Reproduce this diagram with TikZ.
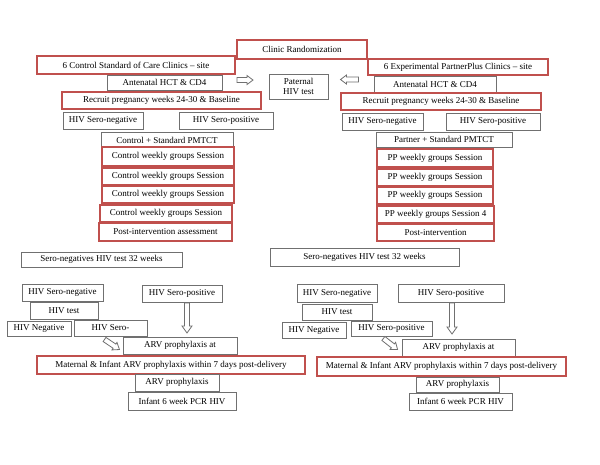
\documentclass[tikz,border=0pt]{standalone}
\usepackage{fontspec}
\setmainfont{Liberation Serif}
\definecolor{boxred}{RGB}{192,80,77}
\definecolor{boxgray}{RGB}{112,112,112}
\newcommand\mybox[7]{%
  \pgfmathsetmacro\bw{#5-#3}\pgfmathsetmacro\bh{#6-#4}%
  \pgfmathsetmacro\bcx{(#3+#5)/2}\pgfmathsetmacro\bcy{(#4+#6)/2}%
  \node[#1, minimum width=\bw pt, minimum height=\bh pt] (#2) at (\bcx,\bcy) {#7};}
% block arrow: cx, cy, angle, length, shaft width, head width, head length
\newcommand\blockarrow[7]{%
  \begin{scope}[shift={(#1,#2)}, rotate=#3]
    \pgfmathsetmacro\al{#4/2}\pgfmathsetmacro\as{#5/2}%
    \pgfmathsetmacro\ah{#6/2}\pgfmathsetmacro\ab{#4/2-#7}%
    \draw[barrow] (-\al,\as) -- (\ab,\as) -- (\ab,\ah) -- (\al,0) -- (\ab,-\ah) -- (\ab,-\as) -- (-\al,-\as) -- cycle;
  \end{scope}}
\begin{document}
\begin{tikzpicture}[x=1pt,y=-1pt,
  every node/.style={font=\fontsize{9}{10.5}\selectfont, inner sep=0pt, outer sep=0pt},
  rbox/.style={draw=boxred, line width=1.5pt, fill=white},
  gbox/.style={draw=boxgray, line width=0.9pt, fill=white},
  barrow/.style={draw=boxgray, line width=0.8pt, fill=white, line join=miter}]
\useasboundingbox[fill=white] (0,0) rectangle (600,464);
% top
\mybox{rbox}{rand}{237}{40}{367}{59}{Clinic Randomization}
\mybox{rbox}{ctrl}{37}{56}{235}{74}{6 Control Standard of Care Clinics – site}
\mybox{rbox}{exp}{368}{59}{548}{75}{6 Experimental PartnerPlus Clinics – site}
\mybox{gbox}{antL}{107}{75}{222}{90}{Antenatal HCT \& CD4}
\mybox{gbox}{antR}{374}{76}{496}{92}{Antenatal HCT \& CD4}
\mybox{gbox,align=center}{pat}{269}{74}{328}{99}{Paternal\\HIV test}
\blockarrow{245}{80}{0}{16}{5}{9}{6}
\blockarrow{349.5}{79.5}{180}{18}{5}{9}{6}
\mybox{rbox}{recL}{62}{92}{261}{109}{Recruit pregnancy weeks 24-30 \& Baseline}
\mybox{rbox}{recR}{341}{93}{541}{110}{Recruit pregnancy weeks 24-30 \& Baseline}
\mybox{gbox}{negL}{63}{112}{143}{129}{HIV Sero-negative}
\mybox{gbox}{posL}{179}{112}{273}{129}{HIV Sero-positive}
\mybox{gbox}{negR}{342}{113}{423}{130}{HIV Sero-negative}
\mybox{gbox}{posR}{446}{113}{540}{130}{HIV Sero-positive}
\mybox{gbox}{cstd}{101}{132}{233}{148}{Control + Standard PMTCT}
\mybox{gbox}{pstd}{376}{132}{512}{147}{Partner + Standard PMTCT}
% sessions
\mybox{rbox}{cw1}{102}{147}{234}{166}{Control weekly groups Session}
\mybox{rbox}{cw2}{102}{168}{234}{185}{Control weekly groups Session}
\mybox{rbox}{cw3}{102}{186}{234}{203}{Control weekly groups Session}
\mybox{rbox}{cw4}{100}{205}{232}{222}{Control weekly groups Session}
\mybox{rbox}{cpost}{99}{223}{232}{241}{Post-intervention assessment}
\mybox{rbox}{pw1}{377}{149}{493}{167}{PP weekly groups Session}
\mybox{rbox}{pw2}{377}{169}{493}{186}{PP weekly groups Session}
\mybox{rbox}{pw3}{377}{187}{493}{204}{PP weekly groups Session}
\mybox{rbox}{pw4}{377}{206}{494}{223}{PP weekly groups Session 4}
\mybox{rbox}{ppost}{377}{224}{494}{241}{Post-intervention}
\mybox{gbox}{snL}{21}{252}{182}{267}{Sero-negatives HIV test 32 weeks}
\mybox{gbox}{snR}{270}{248}{459}{266}{Sero-negatives HIV test 32 weeks}
% bottom left
\mybox{gbox}{neg2L}{22}{284}{103}{301}{HIV Sero-negative}
\mybox{gbox}{testL}{30}{302}{98}{319}{HIV test}
\mybox{gbox}{hnegL}{7}{321}{71}{336}{HIV Negative}
\mybox{gbox}{seroL}{74}{320}{147}{336}{HIV Sero-}
\mybox{gbox}{pos2L}{142}{285}{222}{302}{HIV Sero-positive}
\blockarrow{187}{318}{-90}{30}{5}{10}{7}
\blockarrow{112}{344.5}{-34}{18}{5}{9}{6}
\mybox{gbox}{arvatL}{123}{337}{237}{354}{ARV prophylaxis at}
\mybox{rbox}{matL}{37}{356}{305}{374}{Maternal \& Infant ARV prophylaxis within 7 days post-delivery}
\mybox{gbox}{arvL}{135}{374}{219}{391}{ARV prophylaxis}
\mybox{gbox}{infL}{128}{392}{236}{410}{Infant 6 week PCR HIV}
% bottom right
\mybox{gbox}{neg2R}{297}{284}{377}{302}{HIV Sero-negative}
\mybox{gbox}{testR}{302}{304}{372}{320}{HIV test}
\mybox{gbox}{hnegR}{282}{322}{346}{338}{HIV Negative}
\mybox{gbox}{seroR}{351}{321}{432}{336}{HIV Sero-positive}
\mybox{gbox}{pos2R}{398}{284}{504}{302}{HIV Sero-positive}
\blockarrow{452}{318.5}{-90}{31}{5}{10}{7}
\blockarrow{390.5}{344}{-38}{18}{5}{9}{6}
\mybox{gbox}{arvatR}{402}{339}{515}{356}{ARV prophylaxis at}
\mybox{rbox}{matR}{317}{357}{566}{376}{Maternal \& Infant ARV prophylaxis within 7 days post-delivery}
\mybox{gbox}{arvR}{416}{377}{499}{392}{ARV prophylaxis}
\mybox{gbox}{infR}{409}{393}{512}{410}{Infant 6 week PCR HIV}
\end{tikzpicture}
\end{document}
